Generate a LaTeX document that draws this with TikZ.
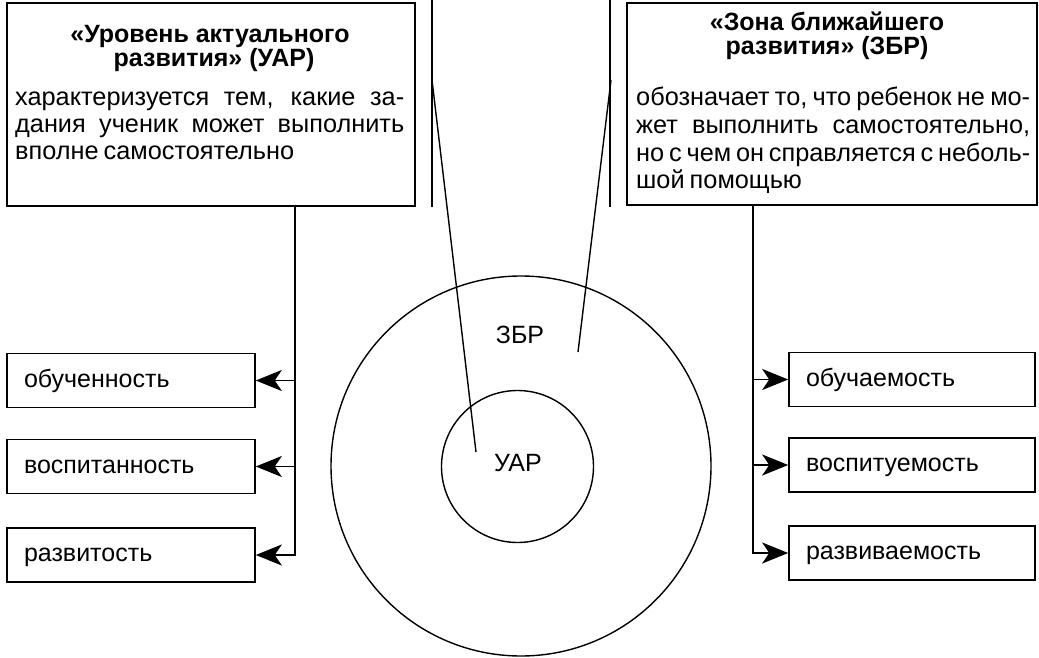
\documentclass[tikz,border=0pt]{standalone}
\usepackage{fontspec}
\setmainfont{Liberation Sans}
\usetikzlibrary{arrows.meta}

% one line of a justified paragraph, with tight word spacing
\newcommand\tightwords{\spaceskip=0.2em plus 3em minus 0.05em\relax}
\newcommand\fullline[2]{{\tightwords\makebox[#1][s]{#2}}}
\newcommand\lastline[1]{{\tightwords #1}}

\begin{document}
\begin{tikzpicture}[x=1pt,y=-1pt,
  bigbox/.style={draw, line width=1.8pt, inner sep=0pt},
  leaf/.style={draw, line width=1.6pt, minimum width=#1, minimum height=54pt,
    text width=#1-34pt, inner xsep=17pt, align=left,
    text height=18pt, text depth=5pt,
    font=\fontsize{25}{30}\selectfont},
  ttl/.style={font=\bfseries\fontsize{25}{29}\selectfont, anchor=base, inner sep=0pt},
  body/.style={font=\fontsize{25.3}{28}\selectfont, anchor=base west, inner sep=0pt},
  ringlabel/.style={font=\fontsize{25}{30}\selectfont, inner sep=0pt},
  ring/.style={draw, circle, line width=1.4pt, inner sep=0pt},
  link/.style={line width=1.7pt},
  pointer/.style={line width=1.4pt}]
\tikzset{>={Stealth[length=26pt,width=21pt,inset=7pt]}}
\useasboundingbox (0,0) rectangle (1039,658);

% description boxes
\node[bigbox, minimum width=408pt, minimum height=203pt] (lbox) at (211,104.5) {};
\node[bigbox, minimum width=410pt, minimum height=202pt] (rbox) at (832,104) {};

\node[ttl] (lt1) at (210,43) {«Уровень актуального};
\node[ttl] (lt2) at (214,67) {развития» (УАР)};
\node[body] (lb1) at (15,106) {\fullline{389pt}{характеризуется тем, какие за-}};
\node[body] (lb2) at (15,133) {\fullline{389pt}{дания ученик может выполнить}};
\node[body] (lb3) at (15,160) {\lastline{вполне самостоятельно}};

\node[ttl] (rt1) at (827,31) {«Зона ближайшего};
\node[ttl] (rt2) at (827,55) {развития» (ЗБР)};
\node[body] (rb1) at (636,106) {\fullline{394pt}{обозначает то, что ребенок не мо-}};
\node[body] (rb2) at (636,134) {\fullline{394pt}{жет выполнить самостоятельно,}};
\node[body] (rb3) at (636,161) {\fullline{394pt}{но с чем он справляется с неболь-}};
\node[body] (rb4) at (636,188) {\lastline{шой помощью}};

% result boxes
\node[leaf=248pt] (l1) at (131,380.5) {обученность};
\node[leaf=248pt] (l2) at (131,466.5) {воспитанность};
\node[leaf=248pt] (l3) at (131,555) {развитость};
\node[leaf=246pt] (r1) at (912,379.5) {обучаемость};
\node[leaf=246pt] (r2) at (912,465) {воспитуемость};
\node[leaf=246pt] (r3) at (912,553) {развиваемость};

% concentric zones
\node[ring, minimum size=380pt] (zbr) at (521,466) {};
\node[ring, minimum size=152pt] (uar) at (517.5,466.5) {};
\node[ringlabel] (zbrlabel) at (520,335) {ЗБР};
\node[ringlabel] (uarlabel) at (518,463) {УАР};

% branching connectors
\coordinate (lspine) at (295,0);
\coordinate (rspine) at (753,0);
\draw[link, ->] (lbox.south -| lspine) |- (l3.east);
\draw[link, ->] (l1.east -| lspine) -- (l1.east);
\draw[link, ->] (l2.east -| lspine) -- (l2.east);
\draw[link, ->] (rbox.south -| rspine) |- (r3.west);
\draw[link, ->] (r1.west -| rspine) -- (r1.west);
\draw[link, ->] (r2.west -| rspine) -- (r2.west);

% pointer lines into the zones
\coordinate (lp0) at (432,0);
\coordinate (lp1) at (432,207);
\coordinate (lpb) at (432,80);
\coordinate (lpe) at (476,452);
\coordinate (rp0) at (610,0);
\coordinate (rp1) at (610,207);
\coordinate (rpb) at (611,80);
\coordinate (rpe) at (578,352);
\draw[pointer] (lp0) -- (lp1);
\draw[pointer] (lpb) -- (lpe);
\draw[pointer] (rp0) -- (rp1);
\draw[pointer] (rpb) -- (rpe);
\end{tikzpicture}
\end{document}
